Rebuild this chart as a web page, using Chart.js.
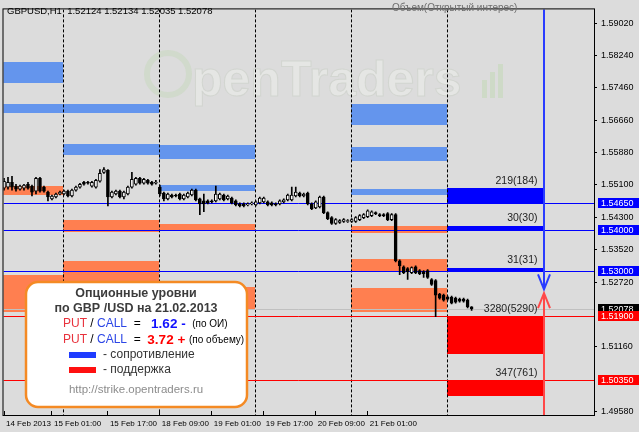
<!DOCTYPE html>
<html>
<head>
<meta charset="utf-8">
<script src="https://cdn.jsdelivr.net/npm/chart.js@4/dist/chart.umd.min.js"></script>
<style>
  html, body { margin: 0; padding: 0; background: #dcdcdc; }
  #wrap { width: 639px; height: 432px; }
</style>
</head>
<body>
<div id="wrap"><canvas id="chart" width="639" height="432"></canvas></div>
<script>
// Свечи GBPUSD H1
const barOpen = [
  1.55010, 1.55034, 1.55153, 1.55058, 1.54986, 1.55010, 1.55105, 1.55058, 1.54938, 1.55249,
  1.55034, 1.54914, 1.54747, 1.54795, 1.54867, 1.54867, 1.54938, 1.54819, 1.54962, 1.55034,
  1.55153, 1.55153, 1.55058, 1.55034, 1.55177, 1.55392, 1.55440, 1.54795, 1.54867, 1.54938,
  1.54795, 1.54867, 1.55034, 1.55105, 1.55249, 1.55129, 1.55201, 1.55153, 1.55129, 1.55034,
  1.54891, 1.54747, 1.54843, 1.54843, 1.54867, 1.54747, 1.54795, 1.54843, 1.54962, 1.54747,
  1.54700, 1.54700, 1.54700, 1.54700, 1.54747, 1.54843, 1.54747, 1.54771, 1.54700, 1.54628,
  1.54628, 1.54604, 1.54628, 1.54604, 1.54652, 1.54676, 1.54676, 1.54652, 1.54628, 1.54628,
  1.54676, 1.54723, 1.54723, 1.54819, 1.54891, 1.54819, 1.54891, 1.54628, 1.54532, 1.54556,
  1.54795, 1.54413, 1.54294, 1.54150, 1.54174, 1.54198, 1.54198, 1.54198, 1.54198, 1.54246,
  1.54294, 1.54318, 1.54341, 1.54413, 1.54365, 1.54365, 1.54389, 1.54246, 1.54365, 1.53243,
  1.53100, 1.53052, 1.52956, 1.53100, 1.53004, 1.52980, 1.53004, 1.52789, 1.52766, 1.52432,
  1.52408, 1.52360, 1.52360, 1.52337, 1.52313, 1.52313, 1.52289, 1.52124
];
const barHigh = [
  1.55249, 1.55273, 1.55296, 1.55105, 1.55082, 1.55105, 1.55153, 1.55082, 1.55273, 1.55273,
  1.55058, 1.54938, 1.54843, 1.54891, 1.54938, 1.54962, 1.54962, 1.54986, 1.55058, 1.55129,
  1.55177, 1.55177, 1.55177, 1.55225, 1.55463, 1.55511, 1.55463, 1.54938, 1.54962, 1.54962,
  1.54938, 1.55058, 1.55392, 1.55273, 1.55273, 1.55249, 1.55225, 1.55177, 1.55201, 1.55082,
  1.54914, 1.54891, 1.54867, 1.54867, 1.54891, 1.54867, 1.54914, 1.54986, 1.54986, 1.54771,
  1.54867, 1.54723, 1.54723, 1.55058, 1.54891, 1.54867, 1.54843, 1.54795, 1.54723, 1.54652,
  1.54652, 1.54652, 1.54676, 1.54700, 1.54795, 1.54795, 1.54700, 1.54676, 1.54652, 1.54723,
  1.54747, 1.54867, 1.55034, 1.55034, 1.54914, 1.54891, 1.54914, 1.54652, 1.54700, 1.54819,
  1.54819, 1.54437, 1.54318, 1.54270, 1.54246, 1.54270, 1.54246, 1.54270, 1.54318, 1.54365,
  1.54389, 1.54485, 1.54461, 1.54437, 1.54389, 1.54389, 1.54413, 1.54389, 1.54389, 1.53267,
  1.53124, 1.53076, 1.53100, 1.53124, 1.53028, 1.53004, 1.53028, 1.52813, 1.52789, 1.52456,
  1.52432, 1.52384, 1.52384, 1.52360, 1.52337, 1.52337, 1.52313, 1.52134
];
const barLow = [
  1.54962, 1.54986, 1.54962, 1.54938, 1.54962, 1.54962, 1.54986, 1.54819, 1.54867, 1.54914,
  1.54914, 1.54700, 1.54723, 1.54771, 1.54843, 1.54843, 1.54795, 1.54795, 1.54938, 1.55010,
  1.55082, 1.55105, 1.55034, 1.55010, 1.55153, 1.55368, 1.54580, 1.54771, 1.54843, 1.54771,
  1.54747, 1.54843, 1.55010, 1.55082, 1.55105, 1.55105, 1.55105, 1.55082, 1.55105, 1.54819,
  1.54700, 1.54723, 1.54771, 1.54795, 1.54723, 1.54723, 1.54771, 1.54819, 1.54700, 1.54365,
  1.54437, 1.54628, 1.54652, 1.54676, 1.54723, 1.54700, 1.54723, 1.54628, 1.54580, 1.54556,
  1.54556, 1.54580, 1.54604, 1.54580, 1.54628, 1.54652, 1.54580, 1.54580, 1.54580, 1.54604,
  1.54652, 1.54700, 1.54700, 1.54795, 1.54795, 1.54795, 1.54604, 1.54485, 1.54509, 1.54532,
  1.54389, 1.54246, 1.54127, 1.54127, 1.54150, 1.54174, 1.54174, 1.54174, 1.54174, 1.54222,
  1.54270, 1.54294, 1.54318, 1.54365, 1.54318, 1.54318, 1.54222, 1.54222, 1.53219, 1.52908,
  1.52932, 1.52789, 1.52932, 1.52932, 1.52908, 1.52837, 1.52813, 1.52646, 1.51883, 1.52313,
  1.52265, 1.52289, 1.52193, 1.52217, 1.52241, 1.52241, 1.52098, 1.52035
];
const barClose = [
  1.55177, 1.55153, 1.55034, 1.54986, 1.55058, 1.55082, 1.55010, 1.54914, 1.55249, 1.54938,
  1.54938, 1.54795, 1.54819, 1.54867, 1.54914, 1.54938, 1.54819, 1.54962, 1.55034, 1.55105,
  1.55105, 1.55129, 1.55153, 1.55201, 1.55368, 1.55463, 1.54795, 1.54914, 1.54938, 1.54795,
  1.54914, 1.55034, 1.55225, 1.55249, 1.55129, 1.55225, 1.55129, 1.55105, 1.55153, 1.54867,
  1.54747, 1.54867, 1.54795, 1.54819, 1.54747, 1.54843, 1.54891, 1.54962, 1.54723, 1.54628,
  1.54628, 1.54652, 1.54676, 1.54867, 1.54867, 1.54723, 1.54819, 1.54652, 1.54604, 1.54580,
  1.54580, 1.54628, 1.54652, 1.54676, 1.54771, 1.54771, 1.54604, 1.54604, 1.54604, 1.54700,
  1.54723, 1.54843, 1.54843, 1.54914, 1.54819, 1.54867, 1.54628, 1.54509, 1.54676, 1.54795,
  1.54413, 1.54270, 1.54150, 1.54246, 1.54222, 1.54246, 1.54222, 1.54246, 1.54294, 1.54341,
  1.54365, 1.54461, 1.54437, 1.54389, 1.54341, 1.54341, 1.54246, 1.54365, 1.53243, 1.53124,
  1.52956, 1.52980, 1.53076, 1.52956, 1.52932, 1.52932, 1.52837, 1.52670, 1.52408, 1.52337,
  1.52289, 1.52313, 1.52217, 1.52241, 1.52265, 1.52265, 1.52122, 1.52078
];

// Шкала времени (номер бара -> подпись)
const timeTicks = [0, 12, 26, 39, 52, 65, 78, 91];
const timeLabels = ['14 Feb 2013', '15 Feb 01:00', '15 Feb 17:00', '18 Feb 09:00',
  '19 Feb 01:00', '19 Feb 17:00', '20 Feb 09:00', '21 Feb 01:00'];
const priceTicks = [1.5902, 1.5824, 1.5746, 1.5666, 1.5588, 1.5510, 1.5430,
  1.5352, 1.5272, 1.5116, 1.4958];

// Опционные уровни прошлых дней (зоны)
const daySeparators = [15, 39, 63, 87, 111];
const zoneStart = [-1, -1, -1, -1, 15, 15, 15, 15, 39, 39, 39, 39, 87, 87, 87, 87, 87, 87];
const zoneEnd   = [15, 15, 15, 15, 39, 39, 39, 39, 63, 63, 63, 63, 111, 111, 111, 111, 111, 111];
const zoneTop   = [1.58065, 1.57063, 1.55058, 1.52908, 1.57063, 1.56084, 1.54246, 1.53243,
  1.56060, 1.55082, 1.54127, 1.52599, 1.57063, 1.56012, 1.54986, 1.54079, 1.53291, 1.52575];
const zoneBottom = [1.57564, 1.56848, 1.54843, 1.52002, 1.56824, 1.55822, 1.53936, 1.52480,
  1.55726, 1.54938, 1.53984, 1.52074, 1.56538, 1.55678, 1.54843, 1.53912, 1.53004, 1.52002];
const zoneType  = ['call', 'call', 'put', 'put', 'call', 'call', 'put', 'put',
  'call', 'call', 'put', 'put', 'call', 'call', 'call', 'put', 'put', 'put'];

// Уровни на 21.02.2013
const levelStart = 111;
const levelEnd = 135;
const levelPrice = [1.5465, 1.5400, 1.5300, 1.5190, 1.5035];
const levelEdge  = [1.5501, 1.5410, 1.5308, 1.5098, 1.4995];
const levelType  = ['call', 'call', 'call', 'put', 'put'];
const levelText  = ['219(184)', '30(30)', '31(31)', '3280(5290)', '347(761)'];

// Стрелки прогноза
const arrowBar = 135;
const arrowDownTip = 1.52551;
const arrowUpTip = 1.52456;

const lastPrice = barClose[barClose.length - 1];

const wickData = barHigh.map((h, i) => ({ x: i, y: [barLow[i], h] }));
const bodyData = barOpen.map((o, i) => ({ x: i, y: [Math.min(o, barClose[i]), Math.max(o, barClose[i])] }));
const bodyColors = barOpen.map((o, i) => barClose[i] >= o ? '#ffffff' : '#000000');

const FONT = "'Liberation Sans', Arial, sans-serif";

function drawRuns(ctx, runs, x, y) {
  runs.forEach(r => {
    ctx.font = r.font;
    ctx.fillStyle = r.color;
    ctx.fillText(r.text, x, y);
    x += ctx.measureText(r.text).width;
  });
}

const mt4Plugin = {
  id: 'mt4',
  beforeDatasetsDraw(chart) {
    const { ctx, chartArea: a, scales: { x, y } } = chart;
    ctx.save();
    ctx.beginPath();
    ctx.rect(a.left, a.top, a.right - a.left, a.bottom - a.top);
    ctx.clip();

    // водяной знак
    ctx.strokeStyle = 'rgba(204,216,196,0.7)';
    ctx.lineWidth = 6;
    ctx.beginPath();
    ctx.arc(168, 74, 21, 0, Math.PI * 2);
    ctx.stroke();
    ctx.font = 'bold 50px ' + FONT;
    ctx.textBaseline = 'alphabetic';
    ctx.fillStyle = 'rgba(230,231,229,0.85)';
    ctx.strokeStyle = 'rgba(206,210,204,0.8)';
    ctx.lineWidth = 1;
    ctx.fillText('penTraders', 192, 96);
    ctx.strokeText('penTraders', 192, 96);
    ctx.fillStyle = 'rgba(200,216,190,0.7)';
    [[482, 80], [490, 72], [498, 64]].forEach(([bx, by]) => ctx.fillRect(bx, by, 5, 98 - by));

    // зоны прошлых дней
    for (let i = 0; i < zoneStart.length; i++) {
      const x0 = Math.floor(x.getPixelForValue(zoneStart[i]));
      const x1 = Math.floor(x.getPixelForValue(zoneEnd[i]));
      const y0 = Math.round(y.getPixelForValue(zoneTop[i]));
      const y1 = Math.round(y.getPixelForValue(zoneBottom[i]));
      ctx.fillStyle = zoneType[i] === 'call' ? '#6495ed' : '#ff7f50';
      ctx.fillRect(x0, y0, x1 - x0, y1 - y0);
    }

    // уровни текущего дня
    const lx0 = Math.floor(x.getPixelForValue(levelStart));
    const lx1 = Math.floor(x.getPixelForValue(levelEnd));
    levelPrice.forEach((p, i) => {
      const y0 = Math.round(y.getPixelForValue(Math.max(p, levelEdge[i])));
      const y1 = Math.round(y.getPixelForValue(Math.min(p, levelEdge[i])));
      ctx.fillStyle = levelType[i] === 'call' ? '#0000ff' : '#ff0000';
      ctx.fillRect(lx0, y0, lx1 - lx0, y1 - y0);
    });

    // разделители дней
    ctx.strokeStyle = '#000';
    ctx.lineWidth = 1;
    ctx.setLineDash([3, 2]);
    daySeparators.forEach(b => {
      const px = Math.floor(x.getPixelForValue(b)) + 0.5;
      ctx.beginPath();
      ctx.moveTo(px, a.top);
      ctx.lineTo(px, a.bottom);
      ctx.stroke();
    });
    ctx.setLineDash([]);

    // горизонтальные уровни
    levelPrice.forEach((p, i) => {
      const py = Math.round(y.getPixelForValue(p)) + 0.5;
      ctx.strokeStyle = levelType[i] === 'call' ? '#0000ff' : '#ff0000';
      ctx.beginPath();
      ctx.moveTo(a.left, py);
      ctx.lineTo(a.right, py);
      ctx.stroke();
    });

    // линия цены
    const py = Math.round(y.getPixelForValue(lastPrice)) + 0.5;
    ctx.strokeStyle = '#c0c0c0';
    ctx.beginPath();
    ctx.moveTo(a.left, py);
    ctx.lineTo(a.right, py);
    ctx.stroke();

    // метки x на оси
    ctx.strokeStyle = '#000';
    x.ticks.forEach(t => {
      const px = Math.floor(x.getPixelForValue(t.value)) + 0.5;
      ctx.beginPath();
      ctx.moveTo(px, a.bottom - 4);
      ctx.lineTo(px, a.bottom);
      ctx.stroke();
    });
    ctx.restore();
  },
  afterDatasetsDraw(chart) {
    const { ctx, chartArea: a, scales: { x, y } } = chart;
    ctx.save();

    // подписи объёмов
    ctx.font = '10.5px ' + FONT;
    ctx.fillStyle = '#1e1e1e';
    ctx.textAlign = 'right';
    ctx.textBaseline = 'middle';
    const tx = x.getPixelForValue(levelEnd) - 6;
    levelPrice.forEach((p, i) => {
      const top = y.getPixelForValue(Math.max(p, levelEdge[i]));
      ctx.fillText(levelText[i], tx, top - 7);
    });

    // стрелки
    const ax = Math.floor(x.getPixelForValue(arrowBar)) + 1;
    const dTip = y.getPixelForValue(arrowDownTip);
    const uTip = y.getPixelForValue(arrowUpTip);
    ctx.lineWidth = 2;
    ctx.strokeStyle = '#2a3cff';
    ctx.beginPath();
    ctx.moveTo(ax, a.top);
    ctx.lineTo(ax, dTip);
    ctx.moveTo(ax - 6, dTip - 15);
    ctx.lineTo(ax, dTip);
    ctx.lineTo(ax + 6, dTip - 15);
    ctx.stroke();
    ctx.strokeStyle = '#ff4848';
    ctx.beginPath();
    ctx.moveTo(ax, a.bottom);
    ctx.lineTo(ax, uTip);
    ctx.moveTo(ax - 6, uTip + 15);
    ctx.lineTo(ax, uTip);
    ctx.lineTo(ax + 6, uTip + 15);
    ctx.stroke();
    ctx.restore();
  },
  afterDraw(chart) {
    const { ctx, chartArea: a, scales: { y } } = chart;
    ctx.save();

    // рамка
    ctx.strokeStyle = '#000';
    ctx.lineWidth = 1;
    ctx.strokeRect(a.left - 0.5, a.top - 0.5, a.right - a.left + 1, a.bottom - a.top + 1);

    // метки цены на оси
    ctx.font = '9px ' + FONT;
    ctx.textAlign = 'left';
    ctx.textBaseline = 'middle';
    const tags = [{ v: lastPrice, bg: '#000' }].concat(
      levelPrice.map((p, i) => ({ v: p, bg: levelType[i] === 'call' ? '#0000ff' : '#ff0000' })));
    tags.forEach(t => {
      const py = Math.round(y.getPixelForValue(t.v));
      ctx.fillStyle = t.bg;
      ctx.fillRect(a.right + 4, py - 5, 41, 10);
      ctx.fillStyle = '#fff';
      ctx.fillText(t.v.toFixed(5), a.right + 7, py + 0.5);
    });

    // заголовок
    ctx.font = '9.5px ' + FONT;
    ctx.fillStyle = '#000';
    ctx.fillText('GBPUSD,H1  ' + [barOpen, barHigh, barLow, barClose]
      .map(s => s[s.length - 1].toFixed(5)).join(' '), 7, 11);
    ctx.font = '10px ' + FONT;
    ctx.fillStyle = '#6e6e6e';
    ctx.fillText('Объем(Открытый интерес)', 392, 8);

    // информационный блок
    ctx.beginPath();
    ctx.roundRect(26, 282, 221, 125, 12);
    ctx.fillStyle = '#fff';
    ctx.fill();
    ctx.lineWidth = 2.5;
    ctx.strokeStyle = '#f48a24';
    ctx.stroke();

    ctx.textAlign = 'center';
    ctx.fillStyle = '#3c3c3c';
    ctx.font = 'bold 12.5px ' + FONT;
    ctx.fillText('Опционные уровни', 136, 294);
    ctx.fillText('по GBP /USD на 21.02.2013', 136, 309);

    ctx.textAlign = 'left';
    const red = '#e8323c', blue = '#2c46e6';
    const base = [
      { text: 'PUT', color: red, font: '12px ' + FONT },
      { text: ' / ', color: '#000', font: '12px ' + FONT },
      { text: 'CALL', color: blue, font: '12px ' + FONT },
      { text: '  =  ', color: '#000', font: '12px ' + FONT }
    ];
    drawRuns(ctx, base.concat([
      { text: ' 1.62 - ', color: '#1010ff', font: 'bold 13.5px ' + FONT },
      { text: ' (по ОИ)', color: '#000', font: '10px ' + FONT }
    ]), 63, 324);
    drawRuns(ctx, base.concat([
      { text: '3.72 + ', color: '#ff0000', font: 'bold 13.5px ' + FONT },
      { text: '(по объему)', color: '#000', font: '10px ' + FONT }
    ]), 63, 340);

    ctx.fillStyle = '#1f3cff';
    ctx.fillRect(69, 352, 27, 6);
    ctx.fillStyle = '#ff1010';
    ctx.fillRect(69, 367, 27, 6);
    ctx.font = '12px ' + FONT;
    ctx.fillStyle = '#333';
    ctx.fillText('- сопротивление', 103, 355);
    ctx.fillText('- поддержка', 103, 370);

    ctx.textAlign = 'center';
    ctx.fillStyle = '#8c8c8c';
    ctx.font = '11.5px ' + FONT;
    ctx.fillText('http://strike.opentraders.ru', 136, 390);
    ctx.restore();
  }
};

new Chart(document.getElementById('chart').getContext('2d'), {
  type: 'bar',
  data: {
    datasets: [
      {
        label: 'body',
        data: bodyData,
        backgroundColor: bodyColors,
        borderColor: '#000',
        borderWidth: 1,
        borderSkipped: false,
        barThickness: 3,
        grouped: false,
        order: 1
      },
      {
        label: 'wick',
        data: wickData,
        backgroundColor: '#000',
        borderWidth: 0,
        barThickness: 1,
        grouped: false,
        order: 2
      }
    ]
  },
  options: {
    responsive: false,
    animation: false,
    events: [],
    layout: { padding: { left: 3, top: 2, right: 0, bottom: 0 } },
    plugins: { legend: { display: false }, tooltip: { enabled: false } },
    scales: {
      x: {
        type: 'linear',
        min: -0.125,
        max: 147.625,
        offset: false,
        grid: { display: false, drawTicks: false, offset: false },
        border: { display: false },
        afterBuildTicks: s => { s.ticks = timeTicks.map(v => ({ value: v })); },
        afterFit: s => { s.height = 17; },
        ticks: {
          autoSkip: false,
          maxRotation: 0,
          align: 'start',
          labelOffset: 2,
          padding: 4,
          color: '#000',
          font: { size: 8, family: FONT },
          callback: (v) => timeLabels[timeTicks.indexOf(v)]
        }
      },
      y: {
        position: 'right',
        min: 1.49496,
        max: 1.59354,
        grid: { drawOnChartArea: false, tickLength: 3, color: '#000' },
        border: { display: true, color: '#000' },
        afterBuildTicks: s => { s.ticks = priceTicks.map(v => ({ value: v })); },
        afterFit: s => { s.width = 45; },
        ticks: {
          autoSkip: false,
          padding: 4,
          color: '#000',
          font: { size: 9, family: FONT },
          callback: v => v.toFixed(5)
        }
      }
    }
  },
  plugins: [mt4Plugin]
});
</script>
</body>
</html>
